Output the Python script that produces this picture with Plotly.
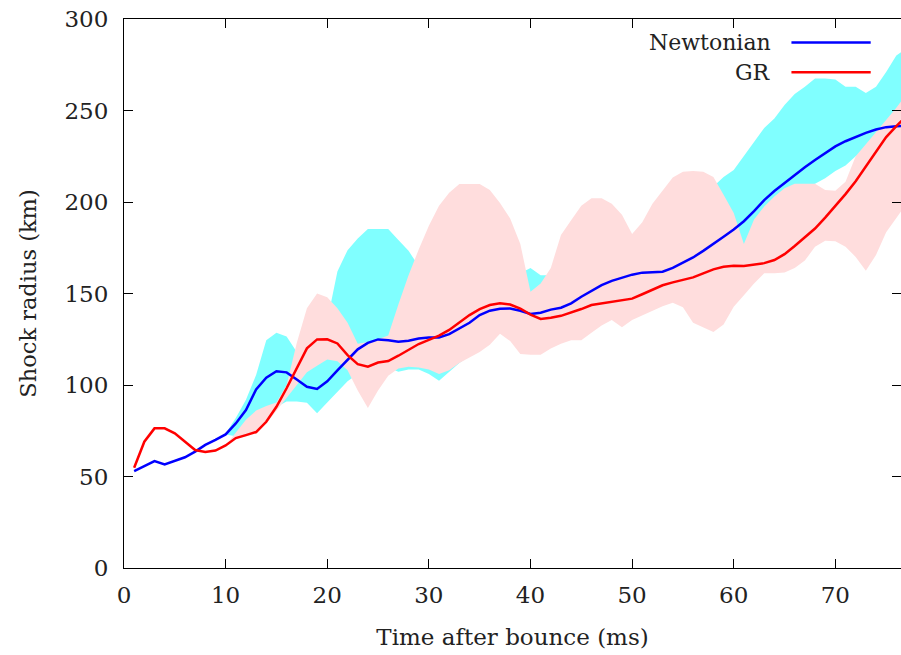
import plotly.graph_objects as go

# ---- data -------------------------------------------------------------
t = list(range(1, 78))

newtonian = [53, 55.7, 58.4, 56.6, 58.4, 60.5, 63.6, 67.3, 70, 73,
             79, 86.3, 97.6, 104, 107.5, 106.9, 103, 99, 97.8, 102,
             108, 113.5, 119.5, 123, 124.9, 124.5, 123.6, 124.2, 125.4, 126,
             126, 127.8, 130.9, 134, 138.2, 140.6, 141.7, 141.8, 140.6, 138.8,
             139.5, 141.2, 142.2, 144.6, 148.2, 151.5, 154.6, 156.9, 158.8, 160.3,
             161.4, 161.7, 161.9, 164, 166.8, 169.7, 173.3, 177, 181, 185,
             189.5, 195, 201, 206, 210.5, 214.5, 219, 223, 226.8, 230.4,
             233.2, 235.6, 237.8, 239.6, 240.9, 241.4, 241.8]

gr = [54.8, 69, 76.3, 76.3, 73.6, 69, 64.5, 63.4, 64.2, 67,
      71, 72.6, 74.3, 79.9, 88.1, 98.2, 109.1, 120, 124.9, 125,
      122.7, 116.3, 111.4, 110, 112.3, 113.1, 116, 119.3, 122.4, 124.7,
      127, 130.1, 134, 138.2, 141.5, 143.7, 144.6, 144, 141.8, 138.5,
      136.1, 136.7, 137.8, 139.5, 141.5, 143.7, 144.6, 145.5, 146.4, 147.2,
      149.6, 152.1, 154.5, 156.1, 157.3, 158.8, 161, 163.2, 164.6, 165.1,
      165, 165.7, 166.6, 168.3, 171.5, 176, 181, 185.5, 191.5, 197.8,
      204.3, 211.3, 219.5, 227.5, 235.5, 241.5, 247]

# spread bands (from t = 10 ms)
tb = list(range(10, 78))

newt_hi = [73.5, 82, 92, 105.5, 124.5, 128.5, 126.5, 118, 117, 116,
           135, 162, 173.7, 180, 185.2, 185.2, 185.2, 179.2, 173.3, 165,
           160, 160, 160, 160, 160, 160, 160, 160, 159, 161,
           164, 160, 160, 165, 170, 172, 175, 175, 174, 175,
           178, 186, 195, 198, 200, 202, 203, 205, 208.5, 213.7,
           217.5, 225, 232.5, 240.5, 245.6, 253, 259, 263, 267.5, 267.5,
           267, 263, 263, 259.5, 263, 271, 280, 284]

newt_lo = [73, 72, 78, 83, 86, 88, 91, 91, 90.3, 84.5,
           90.5, 96, 102, 106, 108, 109, 109.5, 107.2, 108.5, 108.5,
           106, 102.3, 107, 112, 116, 120, 124, 130, 130, 130,
           130, 132, 134, 136, 138, 140, 143, 146, 148, 148,
           150, 152, 155, 158, 160, 160, 160, 160, 162, 165,
           170, 172, 180, 187, 195, 200, 205, 208, 210, 213,
           217, 220, 225, 228, 232, 236, 240, 244]

gr_hi = [67, 74, 81, 86, 88.5, 90.5, 100, 123, 142, 150,
         148, 142, 134, 122.5, 123.5, 125, 127, 144, 160, 174,
         187, 198, 205, 209.8, 210, 209.8, 206.5, 199.5, 191, 177,
         151, 155.5, 164, 182, 190, 198, 202, 202, 199, 193,
         182.5, 189, 199, 206.5, 213.4, 216.5, 217, 216.5, 213.7, 204,
         194, 177, 190.5, 197.5, 203, 207.5, 210, 210, 210, 206.5,
         206.2, 211, 225, 231.5, 238, 244.5, 251.5, 259]

gr_lo = [67, 70.5, 72, 73.5, 79, 86, 93, 100, 107, 110.5,
         114, 113, 108, 97, 87.5, 97, 105, 109, 110, 109.5,
         108.5, 106, 108, 112, 115, 118, 122, 128, 124, 117,
         116.5, 116.5, 120, 122.5, 124.5, 124.5, 128.5, 132.5, 135.5, 131.5,
         135.5, 138, 140.5, 143, 145, 142.5, 134, 131.5, 129, 133,
         142.7, 149, 155.5, 161, 161, 161.5, 164, 168, 175.5, 178.8,
         178.5, 175.5, 170, 162.5, 171, 183.5, 191.5, 199]

x_ticks = [0, 10, 20, 30, 40, 50, 60, 70]
y_ticks = [0, 50, 100, 150, 200, 250, 300]

# ---- styles -------------------------------------------------------------
CYAN = "rgb(128,255,255)"
PINK = "rgb(255,221,221)"
BLUE = "rgb(0,0,255)"
RED = "rgb(255,0,0)"
FONT = "DejaVu Serif"

fig = go.Figure()

fig.add_trace(go.Scatter(x=tb, y=newt_lo, mode="lines", line=dict(width=0),
                         showlegend=False, hoverinfo="skip"))
fig.add_trace(go.Scatter(x=tb, y=newt_hi, mode="lines", line=dict(width=0),
                         fill="tonexty", fillcolor=CYAN,
                         showlegend=False, hoverinfo="skip"))
fig.add_trace(go.Scatter(x=tb, y=gr_lo, mode="lines", line=dict(width=0),
                         showlegend=False, hoverinfo="skip"))
fig.add_trace(go.Scatter(x=tb, y=gr_hi, mode="lines", line=dict(width=0),
                         fill="tonexty", fillcolor=PINK,
                         showlegend=False, hoverinfo="skip"))

fig.add_trace(go.Scatter(x=t, y=newtonian, mode="lines", name="Newtonian",
                         line=dict(color=BLUE, width=2.5)))
fig.add_trace(go.Scatter(x=t, y=gr, mode="lines", name="GR",
                         line=dict(color=RED, width=2.5)))

# legend drawn gnuplot-style (text right aligned, sample to the right)
legend_items = [("Newtonian", BLUE, 0.957), ("GR", RED, 0.903)]
for label, col, yp in legend_items:
    fig.add_annotation(x=0.835, y=yp, xref="paper", yref="paper",
                       text=label, showarrow=False, xanchor="right",
                       yanchor="middle", font=dict(family=FONT, size=22, color="#222"))
    fig.add_shape(type="line", xref="paper", yref="paper",
                  x0=0.859, x1=0.961, y0=yp, y1=yp,
                  line=dict(color=col, width=2.5))

axis_common = dict(showline=True, linecolor="black", linewidth=1.2,
                   mirror="ticks", ticks="inside", ticklen=9, tickwidth=1,
                   tickcolor="black", showgrid=False, zeroline=False,
                   tickfont=dict(family=FONT, size=23, color="#222"))

fig.update_xaxes(range=[0, 76.46], tickvals=x_ticks,
                 ticktext=[str(v) for v in x_ticks],
                 title=dict(text="Time after bounce (ms)",
                            font=dict(family=FONT, size=23, color="#222"),
                            standoff=22),
                 ticklabelstandoff=6,
                 **axis_common)
fig.update_yaxes(range=[0, 300], tickvals=y_ticks,
                 ticktext=[str(v) for v in y_ticks],
                 title=dict(text="Shock radius (km)",
                            font=dict(family=FONT, size=22.5, color="#222"),
                            standoff=21),
                 ticklabelstandoff=10,
                 **axis_common)

fig.update_layout(width=901, height=655,
                  margin=dict(l=124, r=0, t=19, b=87),
                  plot_bgcolor="white", paper_bgcolor="white",
                  font=dict(family=FONT),
                  showlegend=False)

fig.write_html("out.html")
